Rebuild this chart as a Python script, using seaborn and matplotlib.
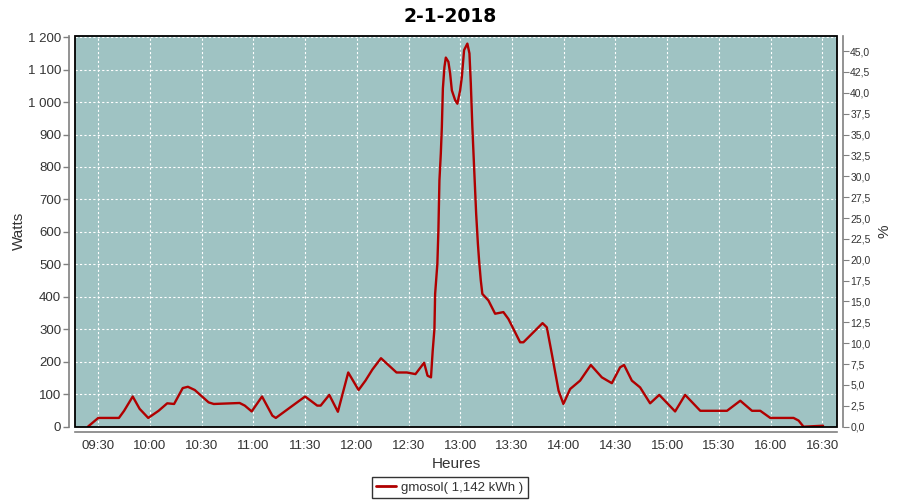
import pandas as pd
import matplotlib.pyplot as plt
import matplotlib.dates as mdates
import matplotlib.ticker as mticker
import seaborn as sns
from matplotlib.lines import Line2D
from matplotlib.patches import Rectangle

# --- données ---
heures = [
    "09:24:00", "09:30:00", "09:42:00", "09:45:00", "09:50:00", "09:54:00", "09:59:00",
    "10:05:00", "10:10:00", "10:14:00", "10:19:00", "10:22:00", "10:26:00", "10:34:00",
    "10:37:00", "10:52:00", "10:55:00", "10:59:00", "11:05:00", "11:11:00", "11:13:00",
    "11:22:00", "11:30:00", "11:37:00", "11:39:00", "11:44:00", "11:49:00", "11:55:00",
    "12:01:00", "12:05:00", "12:09:00", "12:14:00", "12:23:00", "12:29:00", "12:34:00",
    "12:37:00", "12:39:00", "12:41:00", "12:43:00", "12:44:00", "12:45:00", "12:45:24",
    "12:46:42", "12:47:18", "12:47:54", "12:48:42", "12:49:18", "12:49:54", "12:50:48",
    "12:51:36", "12:53:06", "12:54:06", "12:55:06", "12:57:00", "12:58:18", "12:59:54",
    "13:00:54", "13:02:12", "13:04:06", "13:05:18", "13:06:06", "13:07:00", "13:08:00",
    "13:09:12", "13:10:12", "13:10:54", "13:11:54", "13:12:48", "13:16:18", "13:20:12",
    "13:25:00", "13:27:54", "13:34:42", "13:36:36", "13:41:30", "13:47:42", "13:50:12",
    "13:53:06", "13:57:00", "13:59:48", "14:03:42", "14:09:30", "14:15:42", "14:22:06",
    "14:27:54", "14:32:42", "14:35:00", "14:39:30", "14:44:18", "14:50:06", "14:55:24",
    "15:04:36", "15:10:24", "15:19:12", "15:34:42", "15:42:24", "15:49:12", "15:54:00",
    "15:59:48", "16:13:18", "16:16:12", "16:19:06", "16:30:24",
]
watts = [
    0, 27, 27, 49, 93, 55, 27,
    49, 72, 70, 119, 123, 113, 75,
    70, 73, 65, 47, 93, 34, 27,
    62, 93, 65, 65, 98, 46, 167,
    113, 142, 176, 211, 167, 167, 162,
    183, 197, 157, 152, 234, 301, 409,
    502, 605, 759, 841, 923, 1042, 1108,
    1137, 1124, 1088, 1036, 1006, 995, 1036,
    1077, 1160, 1180, 1150, 1057, 923, 800,
    656, 564, 512, 450, 409, 389, 348,
    353, 332, 260, 260, 286, 319, 306,
    224, 111, 70, 116, 142, 190, 152,
    134, 183, 190, 142, 121, 72, 98,
    47, 98, 49, 49, 80, 49, 49,
    27, 27, 19, 0, 3,
]
titre = "2-1-2018"
legende = "gmosol( 1,142 kWh )"

jour = "2018-01-02 "
df = pd.DataFrame({"heure": pd.to_datetime([jour + h for h in heures]), "watts": watts})

sns.set_style("white")
plt.rcParams["font.family"] = ["Liberation Sans", "DejaVu Sans"]

gris = "#808080"
texte = "#333333"

fig = plt.figure(figsize=(9, 5), dpi=100)
ax = fig.add_axes([0.0833, 0.1466, 0.8467, 0.7824])
ax.set_facecolor("#9fc3c3")

sns.lineplot(data=df, x="heure", y="watts", ax=ax, color="#b00000", linewidth=1.7, legend=False)

ax.set_xlim(pd.Timestamp(jour + "09:16:30"), pd.Timestamp(jour + "16:38:30"))
ax.set_ylim(0, 1205)
ax.xaxis.set_major_locator(mdates.MinuteLocator(byminute=[0, 30]))
ax.xaxis.set_major_formatter(mdates.DateFormatter("%H:%M"))
ax.yaxis.set_major_locator(mticker.MultipleLocator(100))
ax.yaxis.set_major_formatter(mticker.FuncFormatter(lambda v, p: f"{int(v):,}".replace(",", " ")))

ax.grid(True, color="white", linestyle=(0, (2, 2)), linewidth=0.8)

# axes gris décalés + cadre noir autour de la zone de tracé
for nom in ["left", "bottom"]:
    ax.spines[nom].set_position(("outward", 4))
    ax.spines[nom].set_color(gris)
    ax.spines[nom].set_linewidth(1.2)
for nom in ["right", "top"]:
    ax.spines[nom].set_visible(False)
ax.add_patch(Rectangle((0, 0), 1, 1, transform=ax.transAxes, fill=False,
                       edgecolor="black", linewidth=1.3, clip_on=False, zorder=5))

ax.tick_params(axis="both", colors=gris, labelcolor=texte, labelsize=9.5,
               length=4, width=1, direction="out")
ax.tick_params(axis="x", pad=1.5)
ax.tick_params(axis="y", pad=2)
ax.set_xlabel("Heures", fontsize=11, color=texte, labelpad=4)
ax.set_ylabel("Watts", fontsize=11, color=texte, labelpad=1)

# axe de droite en %
ax2 = ax.twinx()
ax2.set_ylim(0, 1205 / 1157 * 45)
ax2.yaxis.set_major_locator(mticker.MultipleLocator(2.5))
ax2.yaxis.set_major_formatter(mticker.FuncFormatter(lambda v, p: f"{v:.1f}".replace(".", ",")))
ax2.tick_params(axis="y", colors=gris, labelcolor=texte, labelsize=7.5, length=4, pad=1.5)
ax2.set_ylabel("%", fontsize=11, color=texte, labelpad=5)
for nom in ["left", "top", "bottom"]:
    ax2.spines[nom].set_visible(False)
ax2.spines["right"].set_position(("outward", 4))
ax2.spines["right"].set_color(gris)
ax2.spines["right"].set_linewidth(1.2)

fig.suptitle(titre, fontsize=13.5, fontweight="bold", color="black", y=0.985,
             family="DejaVu Sans")

h = Line2D([], [], color="#b00000", linewidth=2)
leg = fig.legend([h], [legende], loc="center", bbox_to_anchor=(0.5, 0.025), frameon=True,
                 fancybox=False, fontsize=9.5, handlelength=1.5, borderpad=0.35,
                 handletextpad=0.4, labelcolor=texte)
leg.get_frame().set_edgecolor("black")
leg.get_frame().set_linewidth(1)

fig.savefig("out.png", dpi=100)
